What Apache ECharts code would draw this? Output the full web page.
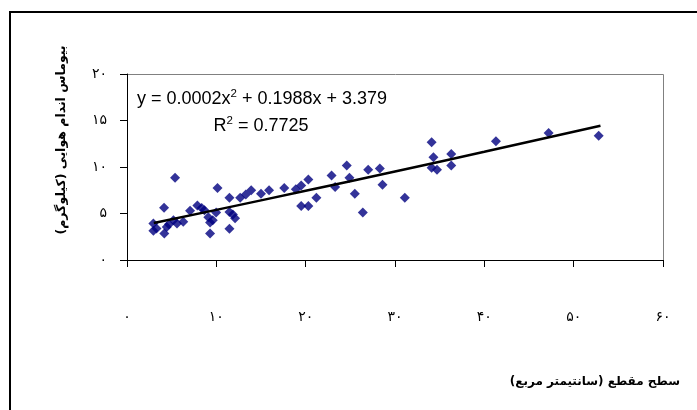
<!DOCTYPE html>
<html>
<head>
<meta charset="utf-8">
<script src="https://cdn.jsdelivr.net/npm/echarts@6/dist/echarts.min.js"></script>
<style>html,body{margin:0;padding:0;background:#fff}#c{width:697px;height:410px}</style>
</head>
<body>
<div id="c"></div>
<script>
// Observed points: [cross-section area (cm²), aerial biomass (kg)]
const points = [
  [2.95,3.92],[2.95,3.14],[3.3,3.4],[4.15,5.63],[4.18,2.85],[4.45,3.56],[4.7,3.85],
  [5.38,8.84],[5.2,4.28],[5.6,3.92],[6.3,4.1],[7.06,5.3],[7.88,5.85],[8.36,5.58],
  [8.67,5.35],[9.1,4.6],[9.3,4.03],[9.6,4.28],[9.3,2.85],[10.13,7.73],[9.98,5.1],
  [11.47,6.7],[11.47,5.17],[11.85,4.9],[12.1,4.5],[11.47,3.35],[12.67,6.7],[13.3,7.05],
  [13.9,7.49],[15.0,7.13],[15.9,7.49],[17.6,7.73],[18.9,7.6],[19.5,8.02],[20.3,8.66],
  [19.5,5.8],[20.3,5.8],[21.2,6.7],[22.9,9.09],[23.3,7.84],[24.6,10.16],[24.9,8.84],
  [25.5,7.13],[26.4,5.1],[27.0,9.7],[28.3,9.85],[28.6,8.1],[31.1,6.7],[34.1,12.65],
  [34.3,11.05],[34.1,9.91],[34.7,9.7],[36.3,11.4],[36.3,10.16],[41.3,12.76],
  [47.2,13.66],[52.8,13.37]
];
// Trend line
const trendX = [3, 10, 20, 30, 40, 50, 53];
const trendY = [3.97, 5.39, 7.44, 9.52, 11.63, 13.79, 14.44];
const xTickLabels = ['۰','۱۰','۲۰','۳۰','۴۰','۵۰','۶۰'];
const yTickLabels = ['۰','۵','۱۰','۱۵','۲۰'];
const xTitle = 'سطح مقطع (سانتیمتر مربع)';
const yTitle = 'بیوماس اندام هوایی (کیلوگرم)';
const eqText = '{n|y = 0.0002x}{sup|2}{n| + 0.1988x + 3.379}';
const r2Text = '{n|R}{sup|2}{n| = 0.7725}';

const chart = echarts.init(document.getElementById('c'), null, {renderer:'canvas'});
const trend = trendX.map((x,i)=>[x,trendY[i]]);
const richStyle = {
  n:{fontSize:18,fontFamily:'Liberation Sans',color:'#000',lineHeight:22},
  sup:{fontSize:11.5,fontFamily:'Liberation Sans',color:'#000',verticalAlign:'top',lineHeight:22,padding:[0,0,10,0]}
};
chart.setOption({
  animation:false,
  backgroundColor:'#fff',
  grid:{left:127,right:34,top:74,bottom:150,show:false},
  xAxis:{type:'value',min:0,max:60,interval:10,
    axisLine:{show:true,lineStyle:{color:'#000',width:1}},
    axisTick:{show:true,length:7,lineStyle:{color:'#000'}},
    splitLine:{show:false},
    axisLabel:{margin:50,color:'#000',fontSize:14,fontFamily:'DejaVu Sans',
      formatter:v=>xTickLabels[Math.round(v/10)]}
  },
  yAxis:{type:'value',min:0,max:20,interval:5,
    axisLine:{show:true,lineStyle:{color:'#000',width:1}},
    axisTick:{show:true,length:7,lineStyle:{color:'#000'}},
    splitLine:{show:false},
    axisLabel:{margin:20,color:'#000',fontSize:14,fontFamily:'DejaVu Sans',
      formatter:v=>yTickLabels[Math.round(v/5)]}
  },
  series:[
    {type:'scatter',data:points,symbol:'diamond',symbolSize:10,
      itemStyle:{color:'#000080'},z:3},
    {type:'line',data:trend,smooth:true,showSymbol:false,symbol:'none',
      lineStyle:{color:'#000',width:2.5},z:4}
  ],
  graphic:[
    {type:'rect',shape:{x:10,y:12,width:800,height:500},
      style:{fill:'none',stroke:'#000',lineWidth:2},silent:true},
    {type:'polyline',shape:{points:[[127.5,74.5],[663.5,74.5],[663.5,260]]},
      style:{fill:'none',stroke:'#808080',lineWidth:1},silent:true},
    {type:'text',x:137,y:99,style:{text:eqText,fill:'#000',fontSize:18,fontFamily:'Liberation Sans',
      verticalAlign:'middle',align:'left',rich:richStyle}},
    {type:'text',x:261,y:126,style:{text:r2Text,fill:'#000',fontSize:18,fontFamily:'Liberation Sans',
      verticalAlign:'middle',align:'center',rich:richStyle}},
    {type:'text',x:680,y:382,style:{text:xTitle,fill:'#000',font:'bold 12px "DejaVu Sans"',
      align:'right',verticalAlign:'middle'}},
    {type:'text',x:62,y:140,rotation:Math.PI/2,style:{text:yTitle,fill:'#000',font:'bold 12.5px "DejaVu Sans"',
      align:'center',verticalAlign:'middle'}}
  ]
});
</script>
</body>
</html>
